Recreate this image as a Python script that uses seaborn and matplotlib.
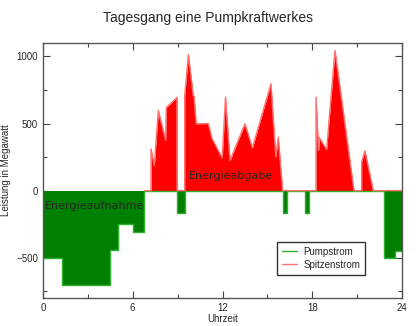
import matplotlib
matplotlib.use("Agg")
import matplotlib.pyplot as plt
import seaborn as sns
import pandas as pd
from matplotlib.ticker import MultipleLocator

# Pumpstrom (step function, hours -> MW)
pump_hours = [0, 1.25, 4.5, 5.0, 6.0, 6.77, 8.98, 9.5, 16.02, 16.3, 17.5, 17.77, 22.77, 23.5, 24]
pump_mw = [-500, -700, -440, -250, -310, 0, -170, 0, -170, 0, -170, 0, -500, -450, -450]

# Spitzenstrom (linear)
peak_hours = [6.77, 7.22, 7.22, 7.44, 7.71, 8.2, 8.24, 8.96, 8.96, 9.47, 9.47, 9.72, 10.05, 10.1, 10.24,
              11.05, 11.3, 11.98, 12.2, 12.5, 13.5, 14.0, 15.24, 15.56, 15.73, 16.02,
              18.25, 18.25, 18.42, 18.47, 18.96, 19.52, 20.79, 21.3, 21.3, 21.52, 22.08, 24]
peak_mw = [0, 0, 311, 186, 597, 375, 619, 695, 0, 0, 700, 1015, 704, 704, 498,
           500, 388, 244, 697, 224, 498, 319, 796, 251, 398, 0,
           0, 697, 300, 395, 306, 1045, 0, 0, 214, 298, 0, 0]

title = "Tagesgang eine Pumpkraftwerkes"
xlabel = "Uhrzeit"
ylabel = "Leistung in Megawatt"
legend_labels = ["Pumpstrom", "Spitzenstrom"]

sns.set_style("ticks")
plt.rcParams["font.family"] = ["Liberation Sans", "DejaVu Sans"]

fig = plt.figure(figsize=(4.16, 3.26), dpi=100)
ax = fig.add_axes([43 / 416, 28 / 326, 359 / 416, 255 / 326])

pump_df = pd.DataFrame({"h": pump_hours, "mw": pump_mw})
peak_df = pd.DataFrame({"h": peak_hours, "mw": peak_mw})

ax.fill_between(pump_df["h"], pump_df["mw"], 0, step="post", color="#008000", linewidth=0)
ax.fill_between(peak_df["h"], peak_df["mw"], 0, color="#ff0000", linewidth=0)
sns.lineplot(data=pump_df, x="h", y="mw", ax=ax, estimator=None, sort=False,
             drawstyle="steps-post", color="#2fb02f", linewidth=1.0, label=legend_labels[0])
sns.lineplot(data=peak_df, x="h", y="mw", ax=ax, estimator=None, sort=False,
             color="#ff7070", linewidth=1.0, label=legend_labels[1])

ax.set_xlim(0, 24)
ax.set_ylim(-800, 1100)
ax.xaxis.set_major_locator(MultipleLocator(6))
ax.xaxis.set_minor_locator(MultipleLocator(3))
ax.yaxis.set_major_locator(MultipleLocator(500))
ax.yaxis.set_minor_locator(MultipleLocator(250))
ax.tick_params(which="both", direction="in", top=True, right=True, labelsize=7, width=0.8, color="#444444")
ax.tick_params(which="major", length=5)
ax.tick_params(which="minor", length=3)
for s in ax.spines.values():
    s.set_color("#555555")
    s.set_linewidth(1.0)

ax.set_xlabel(xlabel, fontsize=7, labelpad=1)
ax.set_ylabel(ylabel, fontsize=7, labelpad=4)
fig.text(0.5, 0.945, title, ha="center", va="center", fontsize=10)

ax.text(12.6, 110, "Energieabgabe", fontsize=8, ha="center", va="center", family="DejaVu Sans")
ax.text(0.1, -112, "Energieaufnahme", fontsize=8, ha="left", va="center", family="DejaVu Sans")

leg = ax.legend(loc="upper left", bbox_to_anchor=(0.652, 0.22), borderaxespad=0, fontsize=7,
                frameon=True, fancybox=False, handlelength=1.5, edgecolor="black",
                borderpad=0.5, labelspacing=0.3, handletextpad=0.7)
leg.get_frame().set_linewidth(1.0)

fig.savefig("out.png", dpi=100)
